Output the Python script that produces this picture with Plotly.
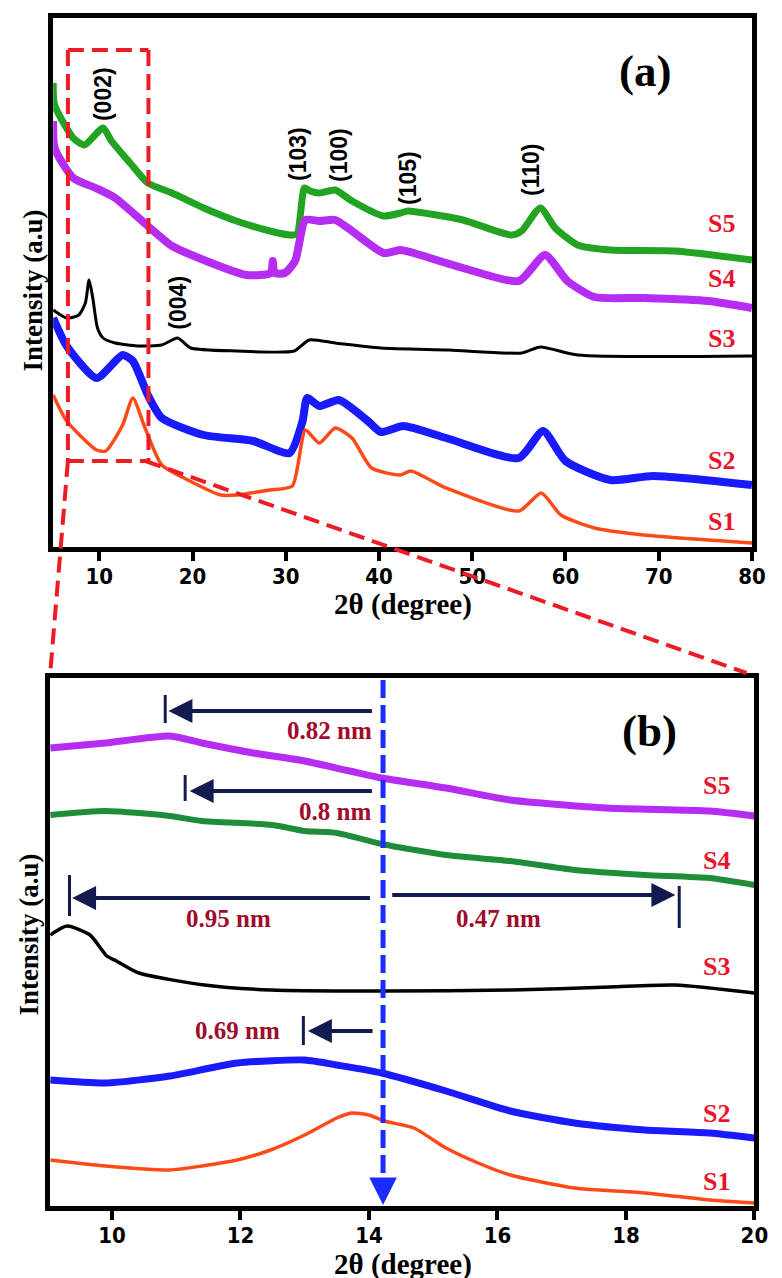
import plotly.graph_objects as go

W, H = 782, 1278

# ---------------- Panel (a) data: 2theta (deg) and intensity (a.u.) ----------------
tt_a_S5 = [5.05, 5.2, 7.2, 8.4, 10.4, 11.3, 13.3, 15.2, 17.8, 21.2, 24.7, 28.3, 30.4, 31.2, 32.0, 32.6,
           33.6, 35.3, 37.1, 40.5, 42.3, 43.1, 45.5, 49.0, 54.2, 55.3, 57.3, 58.9, 61.3, 64.8, 71.8, 80.0]
I_a_S5 = [466, 444, 411, 404, 421, 408, 386, 366, 356, 341, 328, 318, 314, 315, 361, 358,
          356, 359, 348, 333, 336, 338, 335, 329, 314, 318, 341, 321, 304, 299, 298, 289]

tt_a_S4 = [5.05, 5.2, 7.2, 9.6, 11.7, 15.2, 17.8, 21.2, 25.8, 28.4, 28.6, 28.8, 29.9, 31.0, 32.1,
           33.6, 35.3, 37.1, 40.5, 42.3, 43.7, 49.0, 55.0, 57.8, 60.2, 63.1, 68.4, 75.3, 80.0]
I_a_S4 = [428, 401, 371, 361, 351, 323, 303, 289, 274, 276, 288, 276, 276, 288, 329,
          328, 329, 318, 296, 299, 296, 281, 268, 294, 268, 252, 251, 248, 241]

tt_a_S3 = [5.05, 6.5, 7.8, 8.5, 8.9, 9.3, 9.8, 10.4, 11.7, 14.1, 16.7, 18.4, 19.8, 24.7, 30.9,
           32.5, 35.3, 40.2, 47.5, 55.3, 57.3, 61.3, 80.0]
I_a_S3 = [239, 231, 234, 246, 269, 251, 221, 211, 206, 203, 204, 211, 201, 198, 198,
          209, 206, 201, 199, 196, 202, 194, 193]

tt_a_S2 = [5.05, 6.5, 9.7, 12.5, 13.6, 15.2, 16.7, 21.2, 26.5, 30.4, 31.8, 32.3, 33.6, 35.7, 38.8,
           40.2, 42.6, 47.2, 55.0, 57.6, 60.0, 64.8, 69.4, 80.0]
I_a_S2 = [231, 203, 171, 194, 188, 154, 131, 114, 108, 96, 128, 151, 143, 149, 128,
          117, 123, 111, 91, 118, 88, 69, 73, 64]

tt_a_S1 = [5.05, 6.5, 9.7, 10.7, 12.5, 13.6, 14.9, 16.7, 19.5, 23.0, 24.7, 28.3, 30.7, 32.1, 33.6,
           35.3, 37.1, 39.2, 42.3, 43.4, 47.2, 55.0, 57.4, 59.5, 63.1, 68.4, 80.0]
I_a_S1 = [154, 128, 99, 98, 124, 151, 121, 84, 69, 54, 54, 59, 63, 119, 106,
          121, 111, 81, 74, 78, 61, 38, 56, 34, 21, 14, 6]

# ---------------- Panel (b) data ----------------
tt_b_S5 = [9.04, 9.9, 10.9, 11.4, 12.2, 13.0, 13.7, 14.2, 15.2, 16.2, 17.7, 19.3, 20.0]
I_b_S5 = [463, 468, 475, 468, 458, 450, 440, 433, 423, 411, 403, 400, 395]

tt_b_S4 = [9.04, 9.9, 10.9, 11.4, 12.5, 13.0, 13.5, 14.2, 15.2, 16.2, 17.2, 18.3, 19.3, 20.0]
I_b_S4 = [396, 400, 395, 390, 386, 380, 378, 367, 356, 350, 341, 336, 333, 326]

tt_b_S3 = [9.04, 9.3, 9.66, 9.92, 10.07, 10.42, 11.44, 12.47, 14.24, 16.22, 17.75, 18.77, 20.0]
I_b_S3 = [276, 285, 276, 255, 250, 238, 226, 221, 220, 221, 224, 226, 218]

tt_b_S2 = [9.04, 9.9, 10.9, 11.95, 13.0, 13.5, 14.2, 15.2, 16.2, 17.2, 18.3, 19.3, 20.0]
I_b_S2 = [131, 128, 135, 148, 151, 146, 138, 120, 100, 88, 81, 78, 73]

tt_b_S1 = [9.04, 9.9, 10.9, 11.4, 11.95, 12.47, 13.0, 13.5, 13.73, 14.0, 14.24, 14.7, 15.2, 15.7,
           16.2, 17.2, 18.3, 19.3, 20.0]
I_b_S1 = [51, 45, 41, 45, 51, 61, 76, 93, 98, 96, 90, 83, 63, 48, 36, 23, 18, 11, 8]

# labels
peaks_a = ["(002)", "(103)", "(100)", "(105)", "(110)", "(004)"]
peak_pos_a = [(10.4, 455), (31.3, 395), (35.7, 394), (43.1, 371), (56.3, 379), (18.4, 246)]
samples = ["S5", "S4", "S3", "S2", "S1"]
sample_y_a = [326, 271, 211, 89, 28]
sample_y_b = [426, 351, 245, 98, 30]
d_labels = ["0.82 nm", "0.8 nm", "0.95 nm", "0.47 nm", "0.69 nm"]

GREEN_A = "#22a322"
PURPLE = "#b52df2"
BLUE = "#1a1aff"
ORANGE = "#ff4a17"
GREEN_B = "#1f8c3a"
LABEL_RED = "#e8142a"
DARK_RED = "#a00c2c"
NAVY = "#131a4f"


def X(px):
    return min(1.0, max(0.0, px / W))


def Y(py):
    return min(1.0, max(0.0, 1 - py / H))


fig = go.Figure()


def add(x, y, color, width, xa, ya):
    fig.add_trace(go.Scatter(x=x, y=y, mode="lines", xaxis=xa, yaxis=ya,
                             line=dict(color=color, width=width, shape="spline", smoothing=0.6),
                             showlegend=False, hoverinfo="skip"))


add(tt_a_S5, I_a_S5, GREEN_A, 7, "x", "y")
add(tt_a_S4, I_a_S4, PURPLE, 8, "x", "y")
add(tt_a_S3, I_a_S3, "#000000", 3, "x", "y")
add(tt_a_S2, I_a_S2, BLUE, 8, "x", "y")
add(tt_a_S1, I_a_S1, ORANGE, 3.5, "x", "y")

add(tt_b_S5, I_b_S5, PURPLE, 7, "x2", "y2")
add(tt_b_S4, I_b_S4, GREEN_B, 6, "x2", "y2")
add(tt_b_S3, I_b_S3, "#000000", 3.5, "x2", "y2")
add(tt_b_S2, I_b_S2, BLUE, 7, "x2", "y2")
add(tt_b_S1, I_b_S1, ORANGE, 3.5, "x2", "y2")

TICKFONT = dict(family="Liberation Sans Narrow, DejaVu Sans Condensed, Arial Narrow, Liberation Sans, Arial",
                size=22, color="black", weight="bold")
SERIF = "Liberation Serif, Times New Roman, serif"
SANS = "Liberation Sans, Arial, sans-serif"

axis_common = dict(showline=True, mirror=True, linewidth=5, linecolor="black",
                   showgrid=False, zeroline=False)

fig.update_layout(
    width=W, height=H, margin=dict(l=0, r=0, t=0, b=0),
    paper_bgcolor="white", plot_bgcolor="white",
    xaxis=dict(domain=[X(46), X(758)], range=[5.05, 80.05], anchor="y",
               ticks="outside", ticklen=9, tickwidth=4, tickcolor="black", ticklabelstandoff=-3,
               tickvals=[10, 20, 30, 40, 50, 60, 70, 80], tickfont=TICKFONT, **axis_common),
    yaxis=dict(domain=[Y(539), Y(10)], range=[2, 531], anchor="x",
               showticklabels=False, ticks="", **axis_common),
    xaxis2=dict(domain=[X(43), X(760)], range=[9.04, 20.0], anchor="y2",
                ticks="outside", ticklen=9, tickwidth=4, tickcolor="black", ticklabelstandoff=-3,
                tickvals=[10, 12, 14, 16, 18, 20], tickfont=TICKFONT, **axis_common),
    yaxis2=dict(domain=[Y(1198), Y(670)], range=[5, 533], anchor="x2",
                showticklabels=False, ticks="", **axis_common),
)

ann = []
# axis titles
for (px, py) in [(402, 596), (402, 1256)]:
    ann.append(dict(xref="paper", yref="paper", x=X(px), y=Y(py), text="2θ (degree)",
                    xanchor="center", yanchor="middle", showarrow=False,
                    font=dict(family=SERIF, size=29, color="black", weight="bold")))
for (px, py) in [(25, 283), (21, 927)]:
    ann.append(dict(xref="paper", yref="paper", x=X(px), y=Y(py), text="Intensity (a.u)",
                    xanchor="center", yanchor="middle", textangle=-90, showarrow=False,
                    font=dict(family=SERIF, size=27, color="black", weight="bold")))

# panel letters
ann.append(dict(xref="x", yref="y", x=68.5, y=478, text="(a)", showarrow=False,
                font=dict(family=SERIF, size=45, color="black", weight="bold")))
ann.append(dict(xref="x2", yref="y2", x=18.36, y=480, text="(b)", showarrow=False,
                font=dict(family=SERIF, size=45, color="black", weight="bold")))

# peak labels
for t, (x, y) in zip(peaks_a, peak_pos_a):
    ann.append(dict(xref="x", yref="y", x=x, y=y, text=t, textangle=-90, showarrow=False,
                    font=dict(family=SANS, size=23, color="black", weight="bold")))

# sample labels
for s, y in zip(samples, sample_y_a):
    ann.append(dict(xref="x", yref="y", x=76.7, y=y, text=s, showarrow=False,
                    font=dict(family=SERIF, size=26, color=LABEL_RED, weight="bold")))
for s, y in zip(samples, sample_y_b):
    ann.append(dict(xref="x2", yref="y2", x=19.41, y=y, text=s, showarrow=False,
                    font=dict(family=SERIF, size=26, color=LABEL_RED, weight="bold")))

# d-spacing labels
d_pos = [(13.38, 481), (13.47, 400), (11.82, 293), (16.02, 293), (11.96, 181)]
for t, (x, y) in zip(d_labels, d_pos):
    ann.append(dict(xref="x2", yref="y2", x=x, y=y, text=t, showarrow=False,
                    font=dict(family=SERIF, size=25, color=DARK_RED, weight="bold")))

# navy arrows (tip, tail, y)
arrows = [(10.88, 14.07, 500), (11.21, 14.07, 420), (9.38, 14.04, 313), (18.77, 14.34, 316),
          (13.05, 14.08, 180)]
for tip, tail, y in arrows:
    ann.append(dict(xref="x2", yref="y2", axref="x2", ayref="y2", x=tip, y=y, ax=tail, ay=y,
                    text="", showarrow=True, arrowhead=2, arrowsize=1.2, arrowwidth=4,
                    arrowcolor=NAVY))

# blue arrowhead at bottom of dashed line
ann.append(dict(xref="x2", yref="y2", axref="x2", ayref="y2", x=14.22, y=6, ax=14.22, ay=24,
                text="", showarrow=True, arrowhead=2, arrowsize=1.1, arrowwidth=5,
                arrowcolor="#1a2cff"))

fig.update_layout(annotations=ann)

shapes = []
# bars at the arrow tips
bars = [(10.83, 488, 516), (11.14, 410, 436), (9.34, 295, 336), (18.83, 283, 325), (12.98, 166, 195)]
for x, y0, y1 in bars:
    shapes.append(dict(type="line", xref="x2", yref="y2", x0=x, x1=x, y0=y0, y1=y1,
                       line=dict(color=NAVY, width=3)))
# blue dashed vertical
shapes.append(dict(type="line", xref="x2", yref="y2", x0=14.22, x1=14.22, y0=531, y1=22,
                   line=dict(color="#1a2cff", width=5, dash="18px,7px")))

# red dashed zoom box and connectors (paper coords)
red = dict(color="#ec1c24", width=4, dash="16px,8px")
segs = [((61, 42), (143, 42)), ((143, 42), (143, 453)), ((61, 42), (61, 453)),
        ((61, 453), (143, 453)), ((61, 453), (43, 665)), ((140, 453), (752, 665))]
for (a, b) in segs:
    shapes.append(dict(type="line", xref="paper", yref="paper",
                       x0=X(a[0]), y0=Y(a[1]), x1=X(b[0]), y1=Y(b[1]),
                       line=red, layer="above"))

fig.update_layout(shapes=shapes)

fig.write_html("out.html")
